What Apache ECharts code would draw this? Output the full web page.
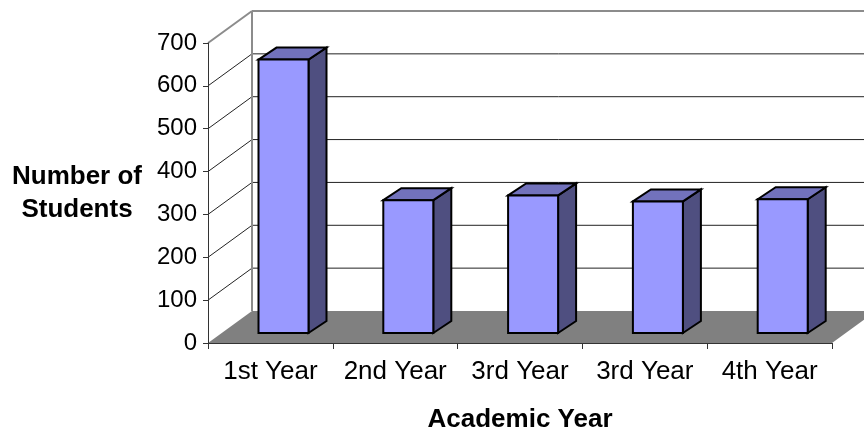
<!DOCTYPE html>
<html><head><meta charset="utf-8">
<script src="https://cdn.jsdelivr.net/npm/echarts@6/dist/echarts.min.js"></script>
<style>html,body{margin:0;padding:0;background:#fff}#c{width:864px;height:430px}</style></head>
<body><div id="c"></div>
<script>
var categories = ['1st Year','2nd Year','3rd Year','3rd Year','4th Year'];
var students = [638, 310, 321, 307, 312];
var yTicks = [0,100,200,300,400,500,600,700];
var yTitle = 'Number of\nStudents';
var xTitle = 'Academic Year';

var WALL_DX = 44, WALL_DY = -32, BAR_W = 50, BAR_DX = 18, BAR_DY = -12, BAR_IN_X = 13.1, BAR_IN_Y = -10;
var FONT = '"Liberation Sans", Arial, sans-serif';

function renderWall(params, api) {
  var tick = api.value(1), cs = params.coordSys;
  var y = api.coord([0, tick])[1];
  var x0 = cs.x, x1 = cs.x + cs.width;
  var children = [];
  if (tick === 0) {
    children.push({type:'polygon', shape:{points:[[x0,y],[x0+WALL_DX,y+WALL_DY],[x1+WALL_DX,y+WALL_DY],[x1,y]]}, style:{fill:'#808080'}});
    return {type:'group', children:children};
  }
  var top = tick === yTicks[yTicks.length-1];
  var col = top ? '#8c8c8c' : '#222', w = top ? 2 : 1;
  children.push({type:'line', shape:{x1:x0,y1:y,x2:x0+WALL_DX,y2:y+WALL_DY}, style:{stroke:col,lineWidth:w}});
  children.push({type:'line', shape:{x1:x0+WALL_DX,y1:y+WALL_DY,x2:x1+WALL_DX,y2:y+WALL_DY}, style:{stroke:col,lineWidth:w}});
  if (top) {
    var by = api.coord([0,0])[1];
    children.push({type:'line', shape:{x1:x0+WALL_DX,y1:y+WALL_DY,x2:x0+WALL_DX,y2:by+WALL_DY}, style:{stroke:col,lineWidth:2}});
  }
  return {type:'group', children:children};
}
function renderBar(params, api) {
  var i = api.value(0), v = api.value(1);
  var cx = api.coord([i,0])[0], by = api.coord([i,0])[1], ty = api.coord([i,v])[1];
  var l = cx + BAR_IN_X - BAR_W/2, r = l + BAR_W, b = by + BAR_IN_Y, t = ty + BAR_IN_Y;
  var s = {stroke:'#000', lineWidth:2, lineJoin:'miter'};
  return {type:'group', children:[
    {type:'polygon', shape:{points:[[r,t],[r+BAR_DX,t+BAR_DY],[r+BAR_DX,b+BAR_DY],[r,b]]}, style:Object.assign({fill:'#4f4f80'},s)},
    {type:'polygon', shape:{points:[[l,t],[l+BAR_DX,t+BAR_DY],[r+BAR_DX,t+BAR_DY],[r,t]]}, style:Object.assign({fill:'#7272bc'},s)},
    {type:'rect', shape:{x:l,y:t,width:BAR_W,height:b-t}, style:Object.assign({fill:'#9999ff'},s)}
  ]};
}
var chart = echarts.init(document.getElementById('c'), null, {renderer:'canvas'});
chart.setOption({
  animation:false,
  grid:{left:208, top:43, width:624, height:300, outerBoundsMode:'none'},
  xAxis:{type:'category', data:categories, z:5,
    axisLine:{lineStyle:{color:'#333',width:1}}, axisTick:{show:true,alignWithLabel:false,length:6,lineStyle:{color:'#333'}},
    axisLabel:{color:'#000',fontSize:26,fontFamily:FONT,margin:16,interval:0},
    name:xTitle, nameLocation:'middle', nameGap:64,
    nameTextStyle:{color:'#000',fontSize:26,fontWeight:'bold',fontFamily:FONT}},
  yAxis:{type:'value', min:0, max:700, interval:100, z:5,
    splitLine:{show:false},
    axisLine:{show:true,lineStyle:{color:'#333',width:1}}, axisTick:{show:true,length:5,lineStyle:{color:'#333'}},
    axisLabel:{color:'#000',fontSize:24,fontFamily:FONT,margin:11},
    name:yTitle, nameLocation:'middle', nameGap:131, nameRotate:0,
    nameTextStyle:{color:'#000',fontSize:26,fontWeight:'bold',fontFamily:FONT,lineHeight:33,align:'center'}},
  series:[
    {type:'custom', name:'wall', z:1, silent:true, renderItem:renderWall, data:yTicks.map(function(t){return [0,t];}), clip:false},
    {type:'custom', name:'Students', z:3, renderItem:renderBar, data:students.map(function(v,i){return [i,v];}), clip:false}
  ]
});
</script></body></html>
